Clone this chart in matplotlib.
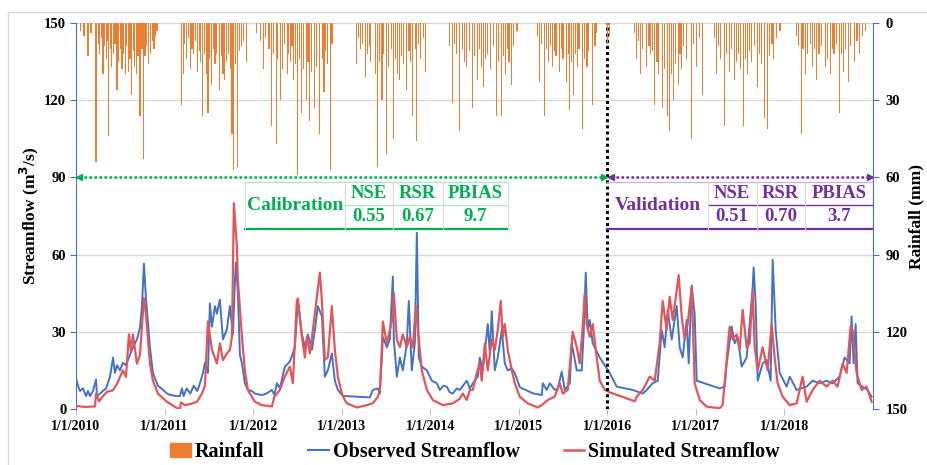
import matplotlib
matplotlib.use("Agg")
import matplotlib.pyplot as plt
from matplotlib.lines import Line2D
from matplotlib.patches import Patch

# ---------- data (time in years since 1/1/2010) ---------------------------- #
obs_t = [0.000, 0.023, 0.045, 0.079, 0.113, 0.135, 0.158, 0.192, 0.226, 0.237,
         0.271, 0.305, 0.339, 0.384, 0.418, 0.440, 0.463, 0.497, 0.530, 0.564,
         0.609, 0.643, 0.688, 0.722, 0.745, 0.767, 0.790, 0.835, 0.869, 0.925,
         0.982, 1.027, 1.061, 1.140, 1.174, 1.196, 1.215, 1.250, 1.290, 1.330,
         1.370, 1.400, 1.433, 1.456, 1.490, 1.512, 1.535, 1.569, 1.591, 1.625,
         1.659, 1.704, 1.738, 1.772, 1.795, 1.806, 1.828, 1.851, 1.874, 1.907,
         1.941, 1.986, 2.020, 2.099, 2.150, 2.212, 2.240, 2.269, 2.302, 2.359,
         2.415, 2.472, 2.506, 2.551, 2.585, 2.619, 2.664, 2.698, 2.731, 2.777,
         2.810, 2.844, 2.889, 2.923, 2.957, 3.014, 3.059, 3.318, 3.352, 3.409,
         3.431, 3.454, 3.465, 3.510, 3.544, 3.578, 3.589, 3.623, 3.657, 3.691,
         3.736, 3.758, 3.792, 3.826, 3.849, 3.871, 3.905, 3.962, 4.018, 4.074,
         4.108, 4.150, 4.187, 4.220, 4.255, 4.300, 4.334, 4.380, 4.413, 4.447,
         4.481, 4.537, 4.560, 4.594, 4.650, 4.673, 4.695, 4.729, 4.763, 4.808,
         4.842, 4.876, 4.921, 4.955, 5.011, 5.158, 5.260, 5.271, 5.316, 5.350,
         5.406, 5.440, 5.485, 5.519, 5.576, 5.598, 5.655, 5.711, 5.734, 5.756,
         5.779, 5.801, 5.835, 5.914, 6.027, 6.106, 6.287, 6.400, 6.445, 6.512,
         6.569, 6.614, 6.648, 6.682, 6.727, 6.783, 6.817, 6.851, 6.896, 6.919,
         6.953, 6.986, 7.009, 7.043, 7.269, 7.325, 7.348, 7.404, 7.438, 7.472,
         7.517, 7.573, 7.607, 7.641, 7.652, 7.675, 7.698, 7.754, 7.799, 7.844,
         7.867, 7.901, 7.946, 8.025, 8.059, 8.138, 8.251, 8.318, 8.397, 8.476,
         8.544, 8.623, 8.679, 8.736, 8.758, 8.781, 8.804, 8.826, 8.883, 8.939,
         8.984]
obs_q = [12, 9, 7, 8, 5, 7, 5, 7, 11.5, 5,
         6, 7, 8, 12.5, 20, 14, 17, 15, 18, 17,
         21, 24, 27, 31.5, 40, 56.5, 43, 24, 14, 9,
         7.5, 6, 5.5, 5, 5, 8, 5, 8, 6, 9,
         7, 10, 14, 18, 14, 41, 32, 40, 37, 42.5,
         27, 31, 40, 29, 50, 57, 45, 21, 17.7, 10,
         7.4, 7, 6, 5.4, 6, 7.4, 5.5, 10, 8, 16.5,
         18.4, 24, 42, 29, 24, 29, 23, 30.7, 40, 36,
         12.6, 15, 21.6, 11, 7.4, 5, 5, 4.5, 7.4, 8,
         6, 20, 28, 24, 27, 51.5, 27, 12.6, 20, 15,
         25.5, 42, 15, 25.5, 68.5, 20, 16.5, 15, 11, 10,
         7.4, 9, 8.7, 6.5, 6, 8, 7.4, 9.5, 11, 8,
         10, 12.6, 20, 15, 33, 21.6, 38, 15, 20, 30.7,
         17.7, 15, 15.8, 13.9, 8.5, 6.1, 5.4, 10, 7.4, 10,
         7.4, 8, 14.5, 7.4, 10, 25.5, 15, 15, 30.7, 53,
         30.7, 34.6, 25.5, 20, 14, 8.7, 7.4, 6, 7.4, 10,
         11, 30.7, 24, 38.5, 27, 40, 24, 20, 34.6, 17.7,
         48, 37, 11, 10.6, 8, 8.7, 17.7, 32, 25.5, 28,
         16.5, 20, 33, 47, 55, 41, 11, 17.7, 19, 11,
         58, 30.7, 14, 8.7, 12.6, 7.4, 8.7, 11, 10, 11,
         10, 12.6, 20, 17.7, 36, 17.7, 33, 10, 8.7, 7.4,
         4.8]

sim_t = [0.000, 0.050, 0.100, 0.215, 0.226, 0.260, 0.305, 0.350, 0.418, 0.463,
         0.530, 0.564, 0.598, 0.620, 0.643, 0.688, 0.722, 0.767, 0.790, 0.835,
         0.869, 0.925, 1.027, 1.140, 1.174, 1.185, 1.230, 1.300, 1.366, 1.422,
         1.456, 1.490, 1.535, 1.591, 1.625, 1.659, 1.704, 1.738, 1.761, 1.783,
         1.817, 1.828, 1.874, 1.907, 1.941, 2.020, 2.099, 2.212, 2.240, 2.302,
         2.359, 2.415, 2.449, 2.494, 2.506, 2.551, 2.585, 2.607, 2.641, 2.675,
         2.720, 2.754, 2.777, 2.810, 2.844, 2.889, 2.923, 2.957, 3.002, 3.036,
         3.059, 3.172, 3.284, 3.352, 3.409, 3.431, 3.454, 3.465, 3.510, 3.544,
         3.578, 3.589, 3.623, 3.657, 3.691, 3.736, 3.770, 3.804, 3.837, 3.860,
         3.905, 3.962, 4.029, 4.142, 4.255, 4.334, 4.368, 4.413, 4.447, 4.481,
         4.526, 4.560, 4.582, 4.616, 4.650, 4.695, 4.729, 4.763, 4.797, 4.819,
         4.842, 4.876, 4.921, 4.955, 5.011, 5.102, 5.214, 5.260, 5.327, 5.406,
         5.463, 5.497, 5.553, 5.609, 5.655, 5.688, 5.722, 5.745, 5.767, 5.801,
         5.835, 5.880, 5.914, 5.971, 6.027, 6.310, 6.332, 6.400, 6.479, 6.535,
         6.591, 6.625, 6.670, 6.704, 6.738, 6.783, 6.806, 6.840, 6.874, 6.907,
         6.953, 6.986, 7.043, 7.122, 7.269, 7.302, 7.348, 7.381, 7.415, 7.460,
         7.494, 7.528, 7.573, 7.607, 7.641, 7.664, 7.698, 7.754, 7.810, 7.856,
         7.889, 7.923, 7.980, 8.059, 8.138, 8.205, 8.251, 8.318, 8.397, 8.476,
         8.544, 8.600, 8.657, 8.702, 8.747, 8.770, 8.815, 8.871, 8.928, 8.984]
sim_q = [1.2, 1, 0.8, 1, 6, 3, 5, 6.7, 7.3, 9.8,
         15, 12.5, 29, 22.5, 29, 17.6, 21, 43, 37, 17.6,
         11, 6, 2.8, 0.3, 0.2, 2.5, 1.5, 2, 2.8, 6,
         9, 34, 23, 17.7, 25.5, 19, 21.6, 23, 28, 80,
         63, 50, 28, 15, 7.4, 2.8, 1.5, 1, 4.8, 7.4,
         12.6, 16.5, 10, 42, 43, 28, 20, 28, 21.6, 30.7,
         43.6, 53, 42, 19, 20, 40, 23, 12.6, 6, 3.5,
         2.2, 0.6, 1.5, 2.2, 4.8, 7.4, 24, 34, 25.5, 30.7,
         36, 45, 27, 24, 29, 24, 28, 24, 40, 30.7,
         15, 7.4, 3.5, 1.5, 2.2, 4, 6, 3.5, 7.4, 7.4,
         14, 17.7, 11, 25.5, 15, 27, 23, 30.7, 42, 28,
         33, 23, 15, 10, 4.8, 2.2, 0.6, 1.5, 3.5, 4.8,
         10, 6, 7.4, 30, 24, 17.7, 32, 45, 33, 28,
         33, 20, 11, 7.4, 6.5, 3, 4.8, 7.4, 12.6, 11,
         25.5, 42, 30.7, 43.6, 34.6, 46, 52, 36, 27, 33,
         47.5, 10, 3.5, 0.9, 0.3, 1.5, 19, 32, 27, 29,
         23, 38.5, 24, 25.5, 46, 24, 15, 24, 15, 33,
         20, 10, 4.8, 1.5, 2.2, 12.6, 2.8, 7.4, 11, 8.7,
         11, 8.7, 17.7, 14, 32, 30.7, 14, 7.4, 8.7, 2.8]

rain_t = [0.05, 0.09, 0.135, 0.17, 0.226, 0.25, 0.27, 0.29, 0.305, 0.32, 0.34, 0.355, 0.37, 0.385,
          0.40, 0.42, 0.44, 0.463, 0.48, 0.50, 0.52, 0.54, 0.555, 0.57, 0.59, 0.61, 0.628,
          0.645, 0.66, 0.68, 0.70, 0.722, 0.745, 0.767, 0.78, 0.80, 0.82, 0.84, 0.86, 0.88,
          0.90, 0.914,
          1.196, 1.21, 1.23, 1.25, 1.27, 1.29, 1.31, 1.33, 1.35, 1.37, 1.39, 1.41, 1.433, 1.45,
          1.47, 1.49, 1.51, 1.53, 1.55, 1.57, 1.59, 1.625, 1.64, 1.66, 1.68, 1.70, 1.72, 1.74,
          1.761, 1.783, 1.80, 1.828, 1.85, 1.87, 1.89, 1.930,
          2.04, 2.08, 2.118, 2.14, 2.18, 2.208, 2.23, 2.264, 2.28, 2.309, 2.33, 2.35, 2.384,
          2.40, 2.42, 2.44, 2.46, 2.48, 2.506, 2.52, 2.551, 2.57, 2.60, 2.62, 2.641, 2.66,
          2.698, 2.72, 2.754, 2.78, 2.80, 2.82, 2.84, 2.874, 2.89, 2.90,
          3.17, 3.19, 3.21, 3.24, 3.272, 3.29, 3.31, 3.33, 3.38, 3.40, 3.409, 3.43, 3.455,
          3.47, 3.510, 3.53, 3.56, 3.59, 3.61, 3.63, 3.657, 3.68, 3.70, 3.736, 3.76, 3.78,
          3.804, 3.83, 3.849, 3.87, 3.89, 3.92, 3.95,
          4.22, 4.25, 4.27, 4.30, 4.334, 4.36, 4.39, 4.413, 4.44, 4.481, 4.50, 4.53, 4.56,
          4.58, 4.60, 4.62, 4.65, 4.68, 4.71, 4.752, 4.77, 4.808, 4.83, 4.85, 4.87, 4.89,
          4.921, 4.94, 4.98,
          5.21, 5.237, 5.26, 5.29, 5.31, 5.34, 5.36, 5.38, 5.40, 5.42, 5.463, 5.48, 5.50,
          5.542, 5.56, 5.576, 5.60, 5.62, 5.64, 5.66, 5.68, 5.722, 5.74, 5.77, 5.79, 5.835,
          5.86, 5.88, 6.00, 6.02,
          6.31, 6.332, 6.35, 6.37, 6.40, 6.445, 6.47, 6.49, 6.512, 6.535, 6.56, 6.58, 6.625,
          6.65, 6.682, 6.704, 6.72, 6.75, 6.77, 6.80, 6.82, 6.84, 6.86, 6.89, 6.953, 6.97,
          7.01, 7.04, 7.077,
          7.21, 7.235, 7.26, 7.28, 7.325, 7.35, 7.38, 7.40, 7.438, 7.46, 7.48, 7.50, 7.540,
          7.56, 7.58, 7.61, 7.63, 7.66, 7.698, 7.72, 7.74, 7.776, 7.810, 7.83, 7.86, 7.88,
          7.91, 7.95,
          8.14, 8.16, 8.193, 8.21, 8.24, 8.26, 8.29, 8.318, 8.34, 8.365, 8.39, 8.42, 8.465,
          8.49, 8.52, 8.54, 8.56, 8.59, 8.623, 8.64, 8.67, 8.69, 8.72, 8.75, 8.79, 8.82,
          8.85, 8.88, 8.92]
rain_mm = [3, 5, 13, 4, 54, 8, 12, 6, 20, 9, 14, 7, 44, 10,
           17, 12, 8, 26, 15, 10, 18, 12, 20, 9, 19, 14, 28,
           11, 17, 20, 13, 36, 10, 53, 13, 9, 16, 12, 7, 10,
           5, 3,
           32, 20, 8, 14, 6, 18, 10, 12, 7, 19, 11, 15, 36, 12,
           20, 35, 14, 24, 10, 16, 12, 26, 13, 20, 22, 15, 12, 18,
           43, 57, 16, 56, 11, 9, 7, 15,
           4, 7, 18, 6, 10, 40, 12, 47, 14, 30, 18, 8, 20,
           12, 15, 9, 22, 16, 59, 14, 35, 18, 30, 15, 38, 19,
           33, 17, 43, 14, 27, 11, 16, 57, 8, 3,
           16, 6, 10, 8, 21, 12, 9, 15, 20, 10, 56, 15, 30,
           12, 51, 17, 10, 45, 14, 20, 22, 13, 16, 26, 11, 15,
           36, 10, 46, 8, 14, 6, 19,
           9, 31, 8, 12, 42, 10, 15, 17, 11, 33, 13, 22, 10,
           17, 25, 14, 12, 18, 9, 36, 15, 36, 13, 20, 10, 15,
           24, 9, 3,
           5, 23, 8, 36, 10, 15, 9, 17, 11, 13, 19, 10, 14,
           23, 12, 34, 15, 28, 12, 17, 10, 41, 14, 17, 11, 32,
           9, 4, 8, 5,
           4, 14, 7, 20, 10, 17, 9, 12, 11, 32, 15, 20, 33,
           18, 36, 42, 20, 30, 16, 24, 12, 18, 9, 14, 45, 8,
           17, 6, 28,
           6, 20, 9, 14, 40, 12, 19, 10, 22, 15, 12, 18, 40,
           14, 20, 11, 15, 9, 25, 12, 16, 37, 41, 13, 8, 14,
           6, 3,
           5, 9, 43, 10, 20, 12, 8, 17, 10, 22, 12, 9, 17,
           14, 20, 10, 12, 8, 35, 12, 19, 10, 23, 9, 15, 7,
           12, 5, 3]

years = list(range(2010, 2019))
tick_labels = [f"1/1/{y}" for y in years]
stat_names = ["NSE", "RSR", "PBIAS"]
cal_stats = ["0.55", "0.67", "9.7"]
val_stats = ["0.51", "0.70", "3.7"]
split_t = 6.0  # 1/1/2016, start of validation

# ---------- style ---------------------------------------------------------- #
BLUE = "#4472C4"
RED = "#E0575B"
ORANGE = "#ED7D31"
GREEN = "#00B050"
PURPLE = "#7030A0"
GRID = "#d9d9d9"

plt.rcParams["font.family"] = ["Liberation Serif", "DejaVu Serif"]
plt.rcParams["font.weight"] = "bold"

fig = plt.figure(figsize=(9.28, 4.65), dpi=100)
ax = fig.add_axes([76 / 928, 1 - 409 / 465, 797 / 928, 386 / 465])
ax2 = ax.twinx()

# streamflow
ax.plot(obs_t, obs_q, color=BLUE, lw=1.4, zorder=3)
ax.plot(sim_t, sim_q, color=RED, lw=1.6, zorder=4)
ax.set_xlim(0, 9)
ax.set_ylim(0, 150)
ax.set_yticks(range(0, 151, 30))
ax.set_xticks(range(len(years)))
ax.set_xticklabels(tick_labels, fontsize=10, fontweight="bold")
ax.yaxis.grid(True, color=GRID, lw=1)
ax.set_axisbelow(True)
for s in ("top", "bottom", "right"):
    ax.spines[s].set_visible(False)
ax.spines["left"].set_color(BLUE)
ax.tick_params(axis="y", length=4, color=BLUE, labelsize=10.5, pad=3)
ax.tick_params(axis="x", length=4, color="#bfbfbf", pad=4)
ax.set_ylabel("Streamflow (m$^3$/s)", fontsize=12.5, fontweight="bold", labelpad=2)

# rainfall (inverted, right axis)
ax2.bar(rain_t, rain_mm, width=0.013, color=ORANGE, lw=0, zorder=2)
ax2.set_ylim(150, 0)
ax2.set_yticks(range(0, 151, 30))
for s in ("top", "bottom", "left"):
    ax2.spines[s].set_visible(False)
ax2.spines["right"].set_color(BLUE)
ax2.tick_params(axis="y", length=4, color=BLUE, labelsize=10.5, pad=5)
ax2.set_ylabel("Rainfall (mm)", fontsize=12.5, fontweight="bold", labelpad=1)

# calibration / validation split
ax.axvline(split_t, color="black", ls=(0, (1, 1)), lw=2.2, zorder=5)
ax.plot([0.03, split_t - 0.04], [90, 90], color=GREEN, ls=(0, (1, 1)), lw=1.8, zorder=5)
ax.plot([0.03], [90], marker="<", color=GREEN, ms=5, clip_on=False, zorder=6)
ax.plot([split_t - 0.04], [90], marker=">", color=GREEN, ms=5, zorder=6)
ax.plot([split_t + 0.04, 8.97], [90, 90], color=PURPLE, ls=(0, (1, 1)), lw=1.8, zorder=5)
ax.plot([split_t + 0.04], [90], marker="<", color=PURPLE, ms=5, zorder=6)
ax.plot([8.97], [90], marker=">", color=PURPLE, ms=5, clip_on=False, zorder=6)


def stats_table(x_left, x_cells, label, values, color, faint):
    """Draw a small label + NSE/RSR/PBIAS table in data coordinates."""
    y_top, y_mid, y_bot = 88.2, 79.3, 70.0
    x_right = x_cells[-1]
    ax.plot([x_left, x_right], [y_top, y_top], color=faint, lw=1, zorder=5)
    ax.plot([x_cells[0], x_right], [y_mid, y_mid], color=faint if color == GREEN else color,
            lw=1, zorder=5)
    ax.plot([x_left, x_right], [y_bot, y_bot], color=color, lw=1.6, zorder=5)
    for xc in x_cells:
        ax.plot([xc, xc], [y_bot, y_top], color="#d9d9d9", lw=0.8, zorder=5)
    if color == GREEN:
        ax.plot([x_left, x_left], [y_bot, y_top], color="#d9d9d9", lw=0.8, zorder=5)
    ax.text((x_left + x_cells[0]) / 2, (y_top + y_bot) / 2, label, color=color,
            fontsize=14, fontweight="bold", ha="center", va="center", zorder=6)
    for i, (name, val) in enumerate(zip(stat_names, values)):
        xm = (x_cells[i] + x_cells[i + 1]) / 2
        ax.text(xm, (y_top + y_mid) / 2, name, color=color, fontsize=13.5,
                fontweight="bold", ha="center", va="center", zorder=6)
        ax.text(xm, (y_mid + y_bot) / 2, val, color=color, fontsize=13.5,
                fontweight="bold", ha="center", va="center", zorder=6)


stats_table(1.907, [3.036, 3.578, 4.142, 4.876], "Calibration", cal_stats, GREEN, "#b7e4c7")
stats_table(split_t, [7.133, 7.686, 8.228, 9.0], "Validation", val_stats, PURPLE, "#c9b3dd")

# legend
handles = [Patch(color=ORANGE),
           Line2D([], [], color=BLUE, lw=1.5),
           Line2D([], [], color=RED, lw=1.8)]
fig.legend(handles, ["Rainfall", "Observed Streamflow", "Simulated Streamflow"],
           loc="center", bbox_to_anchor=(475 / 928, 1 - 452 / 465), ncol=3,
           frameon=False, handlelength=1.0, handletextpad=0.2,
           columnspacing=2.2, prop={"weight": "bold", "size": 14.5})

# light page border
fig.add_artist(Line2D([8 / 928, 8 / 928], [0, 1 - 12 / 465], color=GRID, lw=1))
fig.add_artist(Line2D([8 / 928, 1], [1 - 12 / 465, 1 - 12 / 465], color=GRID, lw=1))

fig.savefig("out.png", dpi=100)
